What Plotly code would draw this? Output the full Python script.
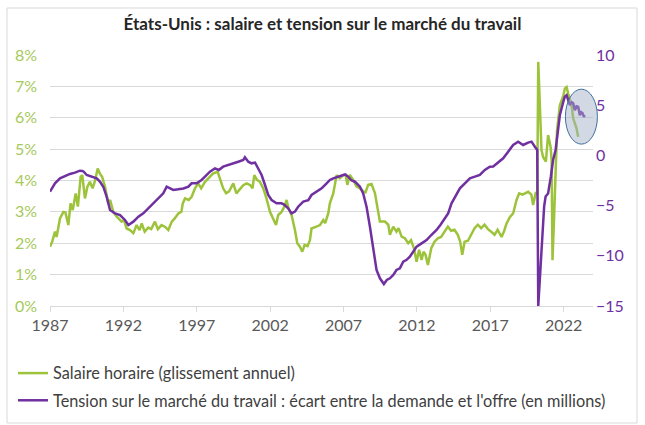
import plotly.graph_objects as go

# ---------------- data (decimal years) ----------------
wage_years = [
    1987.00, 1987.15, 1987.34, 1987.45, 1987.68, 1987.91, 1988.05, 1988.25, 1988.40, 1988.55,
    1988.75, 1988.90, 1989.09, 1989.20, 1989.38, 1989.55, 1989.72, 1989.90, 1990.05, 1990.25,
    1990.40, 1990.55, 1990.75, 1990.97, 1991.10, 1991.31, 1991.55, 1991.88, 1992.05, 1992.22,
    1992.45, 1992.68, 1992.90, 1993.10, 1993.25, 1993.45, 1993.70, 1993.90, 1994.15, 1994.35,
    1994.60, 1994.85, 1995.06, 1995.30, 1995.50, 1995.74, 1995.95, 1996.05, 1996.20, 1996.45,
    1996.65, 1996.88, 1997.10, 1997.30, 1997.55, 1997.78, 1998.10, 1998.42, 1998.60, 1998.80,
    1999.00, 1999.20, 1999.49, 1999.70, 1999.90, 2000.17, 2000.40, 2000.65, 2000.80, 2000.92,
    2001.10, 2001.30, 2001.53, 2001.75, 2001.99, 2002.20, 2002.40, 2002.55, 2002.78, 2002.95,
    2003.12, 2003.25, 2003.46, 2003.69, 2003.85, 2004.03, 2004.19, 2004.35, 2004.55, 2004.71,
    2004.82, 2005.15, 2005.40, 2005.62, 2005.75, 2005.96, 2006.07, 2006.30, 2006.53, 2006.75,
    2006.98, 2007.15, 2007.26, 2007.43, 2007.66, 2007.89, 2008.10, 2008.34, 2008.50, 2008.68,
    2008.91, 2009.14, 2009.36, 2009.48, 2009.82, 2010.05, 2010.16, 2010.39, 2010.61, 2010.75,
    2010.96, 2011.18, 2011.41, 2011.60, 2011.80, 2011.98, 2012.15, 2012.32, 2012.45, 2012.59,
    2012.75, 2012.98, 2013.20, 2013.43, 2013.65, 2013.88, 2014.11, 2014.33, 2014.56, 2014.79,
    2014.95, 2015.09, 2015.25, 2015.48, 2015.70, 2015.93, 2016.15, 2016.38, 2016.61, 2016.84,
    2017.06, 2017.29, 2017.50, 2017.77, 2017.95, 2018.11, 2018.34, 2018.56, 2018.79, 2018.97,
    2019.20, 2019.40, 2019.58, 2019.80, 2019.92, 2020.09, 2020.20, 2020.27, 2020.43, 2020.49,
    2020.60, 2020.79, 2020.94, 2021.11, 2021.18, 2021.24, 2021.35, 2021.45, 2021.55, 2021.74,
    2021.98, 2022.08, 2022.20, 2022.31, 2022.54, 2022.65, 2022.88, 2022.99,
]
wage_growth = [
    1.89, 2.05, 2.37, 2.20, 2.79, 3.00, 2.98, 2.58, 3.27, 3.06,
    3.59, 3.17, 4.12, 4.17, 3.43, 3.80, 3.96, 3.75, 3.96, 4.38,
    4.22, 4.12, 3.80, 3.27, 3.38, 3.00, 2.85, 2.69, 2.74, 2.47,
    2.42, 2.32, 2.58, 2.42, 2.63, 2.37, 2.50, 2.45, 2.69, 2.45,
    2.58, 2.52, 2.42, 2.69, 2.79, 2.95, 3.00, 3.27, 3.43, 3.38,
    3.48, 3.75, 3.91, 3.75, 3.95, 4.07, 4.22, 4.28, 4.05, 3.75,
    3.59, 3.65, 3.91, 3.59, 3.70, 3.85, 3.91, 3.85, 3.75, 4.17,
    4.02, 3.96, 3.75, 3.43, 3.00, 2.80, 2.58, 2.90, 3.00, 3.15,
    3.38, 3.11, 2.90, 2.42, 2.00, 1.89, 1.73, 1.95, 1.91, 2.10,
    2.47, 2.53, 2.58, 2.74, 2.64, 2.95, 3.27, 3.59, 4.17, 4.07,
    4.17, 4.18, 3.86, 4.18, 4.02, 3.81, 3.76, 3.65, 3.62, 3.86,
    3.89, 3.60, 3.06, 2.69, 2.69, 2.59, 2.27, 2.53, 2.37, 2.48,
    2.21, 2.16, 2.00, 2.10, 1.84, 1.41, 1.79, 1.47, 1.73, 1.63,
    1.31, 1.84, 2.05, 2.16, 2.20, 2.37, 2.53, 2.40, 2.43, 2.27,
    2.05, 1.63, 2.05, 2.08, 2.27, 2.48, 2.59, 2.48, 2.59, 2.45,
    2.37, 2.27, 2.43, 2.20, 2.40, 2.63, 2.84, 2.95, 3.38, 3.59,
    3.55, 3.60, 3.64, 3.55, 3.22, 3.59, 3.55, 7.78, 6.00, 4.97,
    4.75, 4.60, 5.45, 5.07, 4.65, 1.46, 2.84, 4.44, 5.60, 6.40,
    6.70, 6.93, 6.98, 6.77, 6.40, 5.98, 5.66, 5.39,
]

tension_years = [
    1987.00, 1987.20, 1987.34, 1987.68, 1988.02, 1988.36, 1988.70, 1989.04, 1989.20, 1989.30,
    1989.50, 1989.84, 1990.18, 1990.40, 1990.63, 1990.86, 1991.09, 1991.43, 1991.77, 1992.11,
    1992.34, 1992.68, 1993.02, 1993.36, 1993.70, 1994.04, 1994.38, 1994.72, 1994.95, 1995.17,
    1995.40, 1995.74, 1996.09, 1996.43, 1996.65, 1996.99, 1997.33, 1997.56, 1997.90, 1998.24,
    1998.50, 1998.80, 1999.14, 1999.49, 1999.83, 2000.17, 2000.28, 2000.51, 2000.74, 2000.97,
    2001.19, 2001.42, 2001.65, 2001.87, 2002.10, 2002.44, 2002.78, 2002.99, 2003.23, 2003.46,
    2003.69, 2003.91, 2004.26, 2004.60, 2004.82, 2005.17, 2005.51, 2005.85, 2006.07, 2006.30,
    2006.64, 2006.87, 2007.10, 2007.30, 2007.55, 2007.78, 2008.12, 2008.34, 2008.57, 2008.80,
    2009.02, 2009.25, 2009.48, 2009.75, 2009.95, 2010.16, 2010.39, 2010.61, 2010.84, 2011.07,
    2011.30, 2011.52, 2011.75, 2011.98, 2012.32, 2012.66, 2012.98, 2013.34, 2013.60, 2013.90,
    2014.13, 2014.36, 2014.59, 2014.93, 2015.27, 2015.61, 2015.95, 2016.29, 2016.63, 2016.97,
    2017.20, 2017.54, 2017.88, 2018.22, 2018.56, 2018.90, 2019.24, 2019.58, 2019.81, 2020.04,
    2020.20, 2020.27, 2020.38, 2020.49, 2020.67, 2020.77, 2020.94, 2021.13, 2021.28, 2021.45,
    2021.52, 2021.74, 2021.97, 2022.08, 2022.20, 2022.31, 2022.42, 2022.55, 2022.65, 2022.76,
    2022.88, 2022.99, 2023.10, 2023.20, 2023.29, 2023.38, 2023.44,
]
tension_millions = [
    -3.61, -3.10, -2.78, -2.28, -2.05, -1.85, -1.72, -1.52, -1.55, -1.62,
    -1.95, -2.12, -2.28, -2.61, -3.12, -4.11, -5.44, -5.77, -5.94, -6.43,
    -6.93, -6.60, -6.10, -5.77, -5.27, -4.77, -4.28, -3.78, -3.12, -3.30,
    -3.44, -3.38, -3.30, -3.12, -2.78, -2.78, -2.45, -2.12, -1.62, -1.29,
    -1.45, -1.12, -0.96, -0.86, -0.63, -0.46, -0.19, -0.63, -0.79, -0.72,
    -1.29, -1.95, -2.95, -3.94, -4.44, -4.77, -4.77, -4.94, -5.27, -5.77,
    -5.60, -5.11, -4.61, -4.45, -3.94, -3.61, -3.28, -2.78, -2.45, -2.28,
    -2.12, -1.95, -1.90, -2.10, -2.50, -2.62, -3.12, -3.78, -5.11, -7.10,
    -9.42, -11.41, -12.24, -12.81, -12.40, -12.24, -11.91, -11.41, -11.25, -10.59,
    -10.40, -10.09, -9.59, -9.09, -8.76, -8.43, -7.93, -7.43, -6.93, -6.27,
    -5.77, -4.77, -4.11, -3.28, -2.78, -2.28, -2.12, -1.95, -1.45, -1.12,
    -1.10, -0.70, -0.29, 0.37, 1.04, 1.37, 1.04, 1.27, 1.37, 0.87,
    0.54, -15.0, -12.10, -8.76, -5.10, -4.10, -3.80, -2.10, -0.46, 0.54,
    1.50, 4.00, 5.30, 5.85, 6.00, 5.50, 5.00, 5.30, 5.20, 4.50,
    4.90, 4.85, 4.00, 4.30, 4.20, 3.85, 4.00,
]

tick_years = [1987, 1992, 1997, 2002, 2007, 2012, 2017, 2022]
tick_labels = [str(y) for y in tick_years]

TITLE = "États-Unis : salaire et tension sur le marché du travail"
NAME_WAGE = "Salaire horaire (glissement annuel)"
NAME_TENSION = "Tension sur le marché du travail : écart entre la demande et l'offre (en millions)"

GREEN = "#9DC33B"
GREEN_TXT = "#A6C95A"
PURPLE = "#7030A0"
GRID = "#D9D9D9"
FONT = "Lato"

# ---------------- layout geometry (pixels) ----------------
W, H = 645, 425
L, R, T, B = 50, 52, 55, 119
PW, PH = W - L - R, H - T - B
X_RANGE = [1987, 2024]
Y_RANGE = [0, 8]


def px_x(px):
    return (px - L) / PW


def px_y(py):
    return (H - B - py) / PH


def data_x(v):
    return (v - X_RANGE[0]) / (X_RANGE[1] - X_RANGE[0])


def data_y(v):
    return (v - Y_RANGE[0]) / (Y_RANGE[1] - Y_RANGE[0])


fig = go.Figure()
fig.add_trace(go.Scatter(
    x=wage_years, y=wage_growth, name=NAME_WAGE, mode="lines",
    line=dict(color=GREEN, width=2.5), yaxis="y", legendgroup="a",
))
fig.add_trace(go.Scatter(
    x=tension_years, y=tension_millions, name=NAME_TENSION, mode="lines",
    line=dict(color=PURPLE, width=2.5), yaxis="y2", legendgroup="b",
))

# highlight ellipse (data-space centre / radii -> paper coords)
ell_cx, ell_rx = 2023.21, 1.09
ell_cy, ell_ry = 6.035, 0.876

shapes = [
    dict(type="rect", xref="paper", yref="paper",
         x0=px_x(7), x1=px_x(637), y0=px_y(423), y1=px_y(8),
         line=dict(color=GRID, width=1), fillcolor="rgba(0,0,0,0)", layer="below"),
    dict(type="circle", xref="paper", yref="paper",
         x0=data_x(ell_cx - ell_rx), x1=data_x(ell_cx + ell_rx),
         y0=data_y(ell_cy - ell_ry), y1=data_y(ell_cy + ell_ry),
         line=dict(color="#41719C", width=1),
         fillcolor="rgba(160,176,200,0.48)", layer="above"),
]

fig.update_layout(
    width=W, height=H,
    margin=dict(l=L, r=R, t=T, b=B, autoexpand=False),
    paper_bgcolor="white", plot_bgcolor="white",
    font=dict(family=FONT, size=16, color="#595959"),
    title=dict(text="<b>" + TITLE + "</b>", x=0.5, xanchor="center",
               y=1 - 24 / H, yanchor="middle",
               font=dict(family=FONT, size=17, color="#262626")),
    xaxis=dict(range=X_RANGE, tickvals=tick_years, ticktext=tick_labels,
               showgrid=False, zeroline=False, showline=True, linecolor=GRID,
               linewidth=1, ticks="outside", ticklen=5, tickcolor=GRID,
               tickfont=dict(size=16, color="#595959")),
    yaxis=dict(range=Y_RANGE, dtick=1, ticksuffix="%", showgrid=True,
               gridcolor=GRID, gridwidth=1, zeroline=False, showline=False,
               ticklabelstandoff=12,
               tickfont=dict(size=16, color=GREEN_TXT)),
    yaxis2=dict(range=[-15, 10], dtick=5, overlaying="y", side="right",
                showgrid=False, zeroline=False, showline=False,
                ticklabelstandoff=2,
                tickfont=dict(size=16, color=PURPLE)),
    legend=dict(x=px_x(13), xanchor="left", y=px_y(356), yanchor="top",
                orientation="v", bgcolor="rgba(0,0,0,0)",
                font=dict(family=FONT, size=16.3, color="#404040"),
                tracegroupgap=3),
    shapes=shapes,
)

fig.write_html("out.html")
